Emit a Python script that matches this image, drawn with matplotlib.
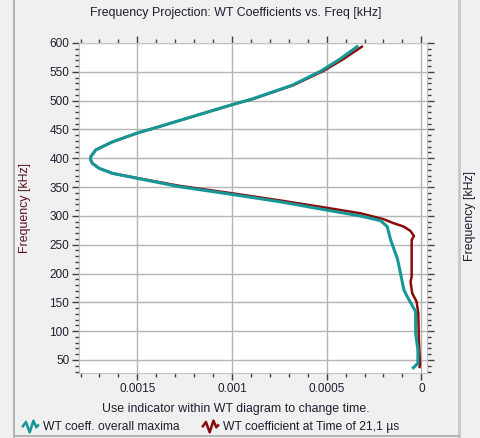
import matplotlib
matplotlib.use("Agg")
import matplotlib.pyplot as plt
from matplotlib.lines import Line2D
from matplotlib.path import Path
from matplotlib.ticker import MultipleLocator, FuncFormatter

plt.rcParams['font.family'] = ['Liberation Sans', 'DejaVu Sans']

# WT coefficient overall maxima per frequency
freq_max = [593.6, 572.0, 551.4, 527.0, 502.8, 492.4, 454.8, 443.8, 428.2, 414.4,
            402.7, 397.0, 391.3, 382.6, 373.9, 365.2, 350.7, 337.5, 324.7, 310.3,
            299.8, 291.7, 281.3, 258.2, 226.5, 214.8, 171.5, 159.8, 133.8, 96.3,
            67.4, 44.3, 36.6]
coef_max = [3.39e-4, 4.30e-4, 5.30e-4, 6.80e-4, 8.93e-4, 1.005e-3, 1.385e-3, 1.50e-3,
            1.633e-3, 1.720e-3, 1.746e-3, 1.746e-3, 1.738e-3, 1.702e-3, 1.632e-3,
            1.50e-3, 1.279e-3, 1.005e-3, 7.50e-4, 5.03e-4, 3.21e-4, 2.15e-4, 1.80e-4,
            1.62e-4, 1.27e-4, 1.19e-4, 9.2e-5, 7.4e-5, 3.0e-5, 3.0e-5, 1.8e-5, 1.8e-5,
            4.2e-5]

# WT coefficient at the selected time (21,1 us)
freq_t = [593.6, 572.0, 551.4, 527.0, 502.8, 492.4, 454.8, 443.8, 428.2, 414.4,
          402.7, 397.0, 391.3, 382.6, 373.9, 365.6, 352.2, 339.5, 327.0, 314.2,
          304.5, 294.1, 287.2, 281.3, 273.8, 265.1, 258.2, 194.5, 185.9, 165.7,
          151.2, 131.0, 84.7, 44.3, 37.9]
coef_t = [3.14e-4, 4.12e-4, 5.18e-4, 6.74e-4, 8.90e-4, 1.005e-3, 1.385e-3, 1.50e-3,
          1.633e-3, 1.720e-3, 1.746e-3, 1.746e-3, 1.738e-3, 1.702e-3, 1.632e-3,
          1.50e-3, 1.279e-3, 1.005e-3, 7.50e-4, 5.03e-4, 3.21e-4, 1.98e-4, 1.45e-4,
          9.2e-5, 5.7e-5, 3.9e-5, 5.1e-5, 5.1e-5, 5.7e-5, 4.8e-5, 2.5e-5, 1.6e-5,
          1.3e-5, 7e-6, 9e-6]

label_max = 'WT coeff. overall maxima'
label_t = 'WT coefficient at Time of 21,1 \u00b5s'
teal = '#159797'
dark_red = '#8b0a0a'
bg = '#f0f0f0'
txt = '#1e1e30'

W, H = 481, 438
fig = plt.figure(figsize=(W / 100, H / 100), dpi=100, facecolor=bg)
ax = fig.add_axes([79 / W, 1 - 373 / H, (427 - 79) / W, (373 - 42.7) / H])
ax.set_facecolor('white')

ax.plot(coef_t, freq_t, color=dark_red, lw=1.8, solid_joinstyle='round', zorder=3)
ax.plot(coef_max, freq_max, color=teal, lw=2.2, solid_joinstyle='round', zorder=4)

ax.set_xlim(0.001808, -0.00003)
ax.set_ylim(27.4, 600.5)

ax.xaxis.set_major_locator(MultipleLocator(0.0005))
ax.xaxis.set_minor_locator(MultipleLocator(0.0001))
ax.yaxis.set_major_locator(MultipleLocator(50))
ax.yaxis.set_minor_locator(MultipleLocator(10))
ax.xaxis.set_major_formatter(FuncFormatter(lambda v, p: '0' if abs(v) < 1e-9 else f'{v:g}'))
ax.yaxis.set_major_formatter(FuncFormatter(lambda v, p: f'{v:.0f}'))

ax.grid(which='major', color='#b4b4b4', lw=1.0)
ax.set_axisbelow(True)
for sp in ax.spines.values():
    sp.set_color('#c4c4c4')
ax.tick_params(which='both', direction='out', top=True, right=True, color='#404040',
               labelsize=8.5, labelcolor=txt, width=1)
ax.tick_params(which='major', length=5, pad=2)
ax.tick_params(which='minor', length=3)
ax.tick_params(axis='y', which='both', right=True, labelright=False)

# titles and axis captions
fig.text(236 / W, 1 - 13 / H, 'Frequency Projection: WT Coefficients vs. Freq [kHz]',
         ha='center', va='center', fontsize=8.9, color=txt)
fig.text(236 / W, 1 - 409 / H, 'Use indicator within WT diagram to change time.',
         ha='center', va='center', fontsize=8.9, color=txt)
fig.text(25 / W, 1 - 208 / H, 'Frequency [kHz]', rotation=90, ha='center', va='center',
         fontsize=8.9, color='#5a1020')
fig.text(470 / W, 1 - 216 / H, 'Frequency [kHz]', rotation=90, ha='center', va='center',
         fontsize=8.9, color=txt)

# panel borders
fig.add_artist(Line2D([14 / W, 14 / W], [1 - 437 / H, 1], color='#a8a8a8', lw=1.2))
fig.add_artist(Line2D([459 / W, 459 / W], [1 - 437 / H, 1], color='#c8c8c8', lw=2))
fig.add_artist(Line2D([14 / W, 459 / W], [1 - 436 / H, 1 - 436 / H], color='#a8a8a8', lw=1.2))

# squiggle legend icon
zig = Path([(-1.0, -0.1), (-0.55, 0.55), (-0.1, -0.7), (0.35, 0.7), (0.7, -0.1), (1.0, 0.25)])
handles = [
    Line2D([], [], linestyle='none', marker=zig, markersize=12, markerfacecolor='none',
           markeredgecolor=teal, markeredgewidth=1.8),
    Line2D([], [], linestyle='none', marker=zig, markersize=12, markerfacecolor='none',
           markeredgecolor=dark_red, markeredgewidth=1.8),
]
leg = fig.legend(handles, [label_max, label_t], loc='center left',
                 bbox_to_anchor=(24 / W, 1 - 427 / H), ncol=2, frameon=False,
                 fontsize=8.7, handlelength=1.0, handletextpad=0.6, columnspacing=2.0,
                 borderpad=0, borderaxespad=0)
for t in leg.get_texts():
    t.set_color(txt)

fig.savefig('out.png', dpi=100, facecolor=bg)
